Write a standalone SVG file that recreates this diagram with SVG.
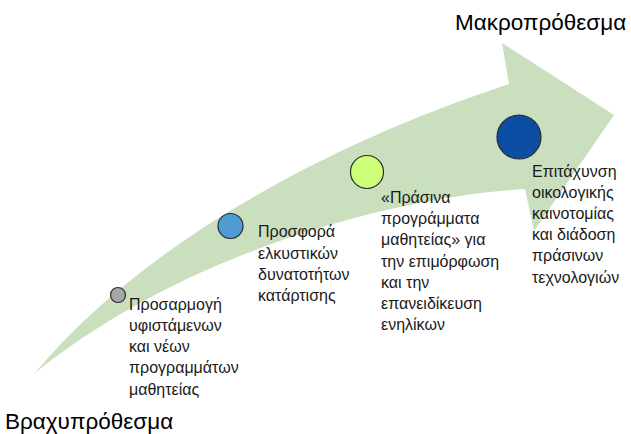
<svg xmlns="http://www.w3.org/2000/svg" width="631" height="434" viewBox="0 0 631 434">
<style>
.t{font-family:"Liberation Sans",Arial,sans-serif;font-size:16px;fill:#1a1a1a}
.h{font-family:"Liberation Sans",Arial,sans-serif;font-size:22.5px;fill:#000}
.c{stroke:#2b2b2b;stroke-width:1.2}
</style>
<rect width="631" height="434" fill="#fff"/>
<g id="arrow">
<path d="M35,373 C120,270 280,160 509,84 L502,43 L614,115 L534,231 L525,189 C420,195 200,240 35,373 Z" fill="#C9DFBE"/>
</g>
<g id="title-long"><text class="h" x="455" y="30">Μακροπρόθεσμα</text></g>
<g id="title-short"><text class="h" x="5" y="429">Βραχυπρόθεσμα</text></g>
<g id="node1">
<circle class="c" cx="118" cy="295" r="7.5" fill="#A6A6A6"/>
<text class="t" x="129" y="310">Προσαρμογή<tspan x="129" y="331">υφιστάμενων</tspan><tspan x="129" y="352">και νέων</tspan><tspan x="129" y="373">προγραμμάτων</tspan><tspan x="129" y="395">μαθητείας</tspan></text>
</g>
<g id="node2">
<circle class="c" cx="230.5" cy="226" r="12.5" fill="#4F9BD6"/>
<text class="t" x="258" y="237">Προσφορά<tspan x="258" y="259">ελκυστικών</tspan><tspan x="258" y="280">δυνατοτήτων</tspan><tspan x="258" y="301">κατάρτισης</tspan></text>
</g>
<g id="node3">
<circle class="c" cx="367" cy="172" r="16.5" fill="#CCFF77"/>
<text class="t" x="381" y="203">«Πράσινα<tspan x="381" y="224">προγράμματα</tspan><tspan x="381" y="245">μαθητείας» για</tspan><tspan x="381" y="267">την επιμόρφωση</tspan><tspan x="381" y="288">και την</tspan><tspan x="381" y="309">επανειδίκευση</tspan><tspan x="381" y="330">ενηλίκων</tspan></text>
</g>
<g id="node4">
<circle class="c" cx="519" cy="137" r="22" fill="#0B4DA2"/>
<text class="t" x="532" y="177">Επιτάχυνση<tspan x="532" y="198">οικολογικής</tspan><tspan x="532" y="219">καινοτομίας</tspan><tspan x="532" y="240">και διάδοση</tspan><tspan x="532" y="261">πράσινων</tspan><tspan x="532" y="283">τεχνολογιών</tspan></text>
</g>
<g id="connectors"></g>
</svg>
